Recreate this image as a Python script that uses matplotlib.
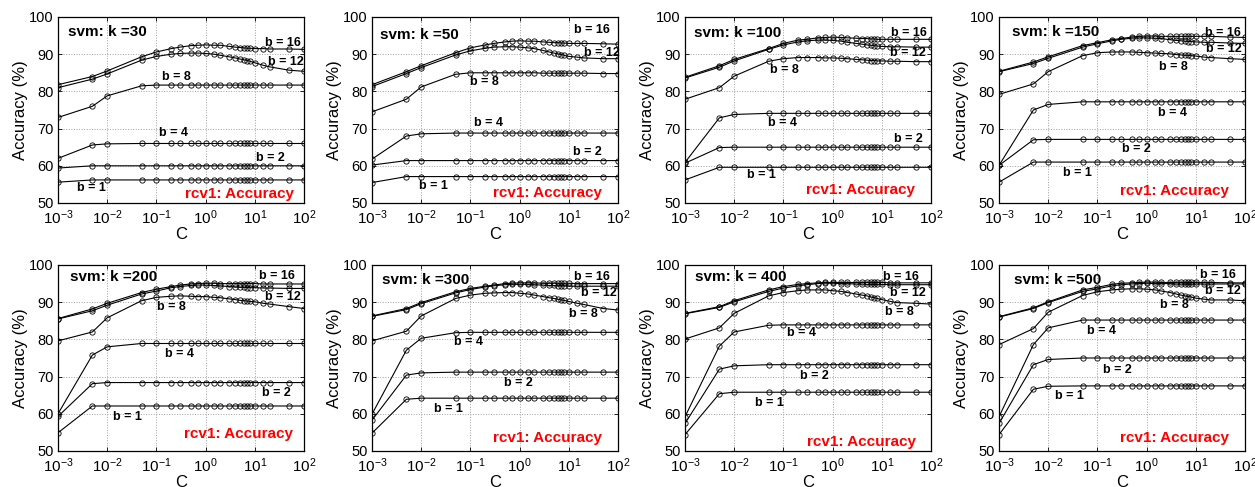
import numpy as np
import matplotlib
matplotlib.use("Agg")
import matplotlib.pyplot as plt

plt.rcParams['font.family'] = ['Liberation Sans', 'DejaVu Sans']
plt.rcParams['mathtext.fontset'] = 'custom'
plt.rcParams['mathtext.rm'] = 'Liberation Sans'
plt.rcParams['mathtext.it'] = 'Liberation Sans'
plt.rcParams['mathtext.bf'] = 'Liberation Sans:bold'

# C values (x axis)
C = [0.001, 0.005, 0.01, 0.05, 0.1, 0.2, 0.3, 0.5, 0.7, 1, 1.5, 2, 3, 4, 5, 6, 7, 8, 10, 15, 20, 50, 100]

ks = [30, 50, 100, 150, 200, 300, 400, 500]
bits = [16, 12, 8, 4, 2, 1]
titles = ["svm: k =30", "svm: k =50", "svm: k =100", "svm: k =150",
          "svm: k =200", "svm: k =300", "svm: k = 400", "svm: k =500"]

# accuracy (%) per k and b
k30_b16 = [81.8, 84.0, 85.5, 89.3, 90.6, 91.5, 91.9, 92.3, 92.4, 92.5, 92.4, 92.4, 92.1, 91.9, 91.8, 91.7, 91.6, 91.6, 91.5, 91.5, 91.4, 91.4, 91.3]
k30_b12 = [81.0, 83.3, 84.7, 88.4, 89.4, 90.0, 90.2, 90.3, 90.3, 90.2, 90.0, 89.7, 89.3, 89.0, 88.7, 88.5, 88.3, 88.1, 87.7, 87.0, 86.6, 85.7, 85.4]
k30_b8 = [73.0, 76.0, 78.8, 81.5, 81.7, 81.7, 81.7, 81.7, 81.7, 81.7, 81.7, 81.7, 81.7, 81.7, 81.7, 81.7, 81.7, 81.7, 81.7, 81.7, 81.7, 81.7, 81.7]
k30_b4 = [62.0, 65.6, 65.9, 66.0, 66.0, 66.0, 66.0, 66.0, 66.0, 66.0, 66.0, 66.0, 66.0, 66.0, 66.0, 66.0, 66.0, 66.0, 66.0, 66.0, 66.0, 66.0, 66.0]
k30_b2 = [59.4, 60.0, 60.0, 60.0, 60.0, 60.0, 60.0, 60.0, 60.0, 60.0, 60.0, 60.0, 60.0, 60.0, 60.0, 60.0, 60.0, 60.0, 60.0, 60.0, 60.0, 60.0, 60.0]
k30_b1 = [55.6, 56.2, 56.2, 56.2, 56.2, 56.2, 56.2, 56.2, 56.2, 56.2, 56.2, 56.2, 56.2, 56.2, 56.2, 56.2, 56.2, 56.2, 56.2, 56.2, 56.2, 56.2, 56.2]

k50_b16 = [81.8, 85.3, 86.9, 90.4, 91.7, 92.5, 92.9, 93.3, 93.5, 93.6, 93.5, 93.5, 93.3, 93.2, 93.1, 93.1, 93.0, 93.0, 92.9, 92.9, 92.9, 92.8, 92.7]
k50_b12 = [81.3, 84.8, 86.4, 89.8, 90.9, 91.6, 91.9, 92.0, 92.0, 91.9, 91.7, 91.5, 91.0, 90.6, 90.3, 90.1, 89.9, 89.7, 89.4, 89.2, 89.0, 88.8, 88.8]
k50_b8 = [74.5, 77.9, 81.2, 84.6, 85.0, 85.0, 85.0, 85.0, 85.0, 85.0, 85.0, 85.0, 84.9, 84.9, 84.9, 84.9, 84.9, 84.9, 84.9, 84.9, 84.9, 84.8, 84.8]
k50_b4 = [61.8, 68.0, 68.6, 68.8, 68.8, 68.8, 68.8, 68.8, 68.8, 68.8, 68.8, 68.8, 68.8, 68.8, 68.8, 68.8, 68.8, 68.8, 68.8, 68.8, 68.8, 68.8, 68.8]
k50_b2 = [60.2, 61.4, 61.4, 61.4, 61.4, 61.4, 61.4, 61.4, 61.4, 61.4, 61.4, 61.4, 61.4, 61.4, 61.4, 61.4, 61.4, 61.4, 61.4, 61.4, 61.4, 61.4, 61.4]
k50_b1 = [55.5, 57.1, 57.1, 57.1, 57.1, 57.1, 57.1, 57.1, 57.1, 57.1, 57.1, 57.1, 57.1, 57.1, 57.1, 57.1, 57.1, 57.1, 57.1, 57.1, 57.1, 57.1, 57.1]

k100_b16 = [83.8, 86.9, 88.6, 91.5, 92.9, 93.8, 94.0, 94.4, 94.5, 94.6, 94.5, 94.4, 94.3, 94.2, 94.2, 94.1, 94.1, 94.0, 94.0, 94.0, 94.0, 94.0, 94.0]
k100_b12 = [83.6, 86.5, 88.2, 91.3, 92.5, 93.3, 93.6, 93.8, 93.8, 93.7, 93.5, 93.2, 92.9, 92.7, 92.5, 92.4, 92.3, 92.2, 92.1, 92.0, 92.0, 91.9, 91.9]
k100_b8 = [77.9, 81.0, 84.1, 88.1, 88.8, 89.1, 89.1, 89.1, 89.0, 89.0, 88.9, 88.8, 88.6, 88.5, 88.4, 88.3, 88.3, 88.2, 88.2, 88.1, 88.1, 88.0, 88.0]
k100_b4 = [60.9, 72.9, 73.8, 74.1, 74.1, 74.1, 74.1, 74.1, 74.1, 74.1, 74.1, 74.1, 74.1, 74.1, 74.1, 74.1, 74.1, 74.1, 74.1, 74.1, 74.1, 74.1, 74.1]
k100_b2 = [60.7, 64.9, 65.0, 65.0, 65.0, 65.0, 65.0, 65.0, 65.0, 65.0, 65.0, 65.0, 65.0, 65.0, 65.0, 65.0, 65.0, 65.0, 65.0, 65.0, 65.0, 65.0, 65.0]
k100_b1 = [56.2, 59.6, 59.6, 59.6, 59.6, 59.6, 59.6, 59.6, 59.6, 59.6, 59.6, 59.6, 59.6, 59.6, 59.6, 59.6, 59.6, 59.6, 59.6, 59.6, 59.6, 59.6, 59.6]

k150_b16 = [85.4, 87.9, 89.3, 92.3, 93.1, 93.9, 94.2, 94.6, 94.8, 94.9, 94.9, 94.8, 94.8, 94.8, 94.8, 94.8, 94.8, 94.8, 94.8, 94.8, 94.8, 94.6, 94.5]
k150_b12 = [85.3, 87.5, 88.9, 91.9, 92.8, 93.6, 94.0, 94.3, 94.4, 94.4, 94.3, 94.2, 93.9, 93.7, 93.6, 93.5, 93.4, 93.4, 93.3, 93.2, 93.2, 93.0, 92.9]
k150_b8 = [79.2, 82.0, 85.3, 89.6, 90.4, 90.6, 90.6, 90.6, 90.5, 90.4, 90.3, 90.2, 90.1, 89.9, 89.8, 89.7, 89.7, 89.6, 89.5, 89.2, 89.1, 88.8, 88.6]
k150_b4 = [60.1, 75.0, 76.5, 77.2, 77.2, 77.2, 77.2, 77.2, 77.2, 77.2, 77.2, 77.2, 77.2, 77.2, 77.2, 77.2, 77.2, 77.2, 77.2, 77.2, 77.2, 77.2, 77.2]
k150_b2 = [60.1, 67.0, 67.1, 67.1, 67.1, 67.1, 67.1, 67.1, 67.1, 67.1, 67.1, 67.1, 67.1, 67.1, 67.1, 67.1, 67.1, 67.1, 67.1, 67.1, 67.1, 67.1, 67.1]
k150_b1 = [55.6, 61.0, 61.0, 61.0, 61.0, 61.0, 61.0, 61.0, 61.0, 61.0, 61.0, 61.0, 61.0, 61.0, 61.0, 61.0, 61.0, 61.0, 61.0, 61.0, 61.0, 61.0, 61.0]

k200_b16 = [85.6, 88.2, 89.7, 92.6, 93.5, 94.2, 94.6, 94.9, 95.0, 95.1, 95.1, 95.0, 95.0, 95.0, 95.0, 95.0, 95.0, 95.0, 95.0, 94.9, 94.9, 94.9, 94.9]
k200_b12 = [85.5, 87.7, 89.2, 92.2, 93.0, 93.9, 94.2, 94.5, 94.6, 94.6, 94.5, 94.4, 94.2, 94.1, 94.0, 94.0, 93.9, 93.9, 93.9, 93.8, 93.8, 93.7, 93.7]
k200_b8 = [79.6, 82.0, 85.8, 90.4, 91.3, 91.6, 91.7, 91.6, 91.5, 91.5, 91.3, 91.2, 90.9, 90.7, 90.5, 90.4, 90.3, 90.2, 90.1, 89.7, 89.5, 88.8, 88.3]
k200_b4 = [60.0, 75.8, 78.0, 78.9, 78.9, 78.9, 78.9, 78.9, 78.9, 78.9, 78.9, 78.9, 78.9, 78.9, 78.9, 78.9, 78.9, 78.9, 78.9, 78.9, 78.9, 78.9, 78.9]
k200_b2 = [59.3, 68.1, 68.4, 68.4, 68.4, 68.4, 68.4, 68.4, 68.4, 68.4, 68.4, 68.4, 68.4, 68.4, 68.4, 68.4, 68.4, 68.4, 68.4, 68.4, 68.4, 68.4, 68.4]
k200_b1 = [54.9, 62.1, 62.1, 62.1, 62.1, 62.1, 62.1, 62.1, 62.1, 62.1, 62.1, 62.1, 62.1, 62.1, 62.1, 62.1, 62.1, 62.1, 62.1, 62.1, 62.1, 62.1, 62.1]

k300_b16 = [86.3, 88.3, 89.9, 92.8, 93.7, 94.3, 94.6, 95.0, 95.1, 95.2, 95.2, 95.2, 95.1, 95.1, 95.1, 95.1, 95.1, 95.1, 95.1, 95.0, 95.0, 95.0, 95.0]
k300_b12 = [86.2, 88.0, 89.6, 92.5, 93.4, 94.1, 94.4, 94.7, 94.8, 94.8, 94.8, 94.7, 94.6, 94.5, 94.5, 94.4, 94.4, 94.4, 94.3, 94.3, 94.3, 94.3, 94.3]
k300_b8 = [79.6, 82.2, 86.3, 91.0, 91.9, 92.4, 92.5, 92.6, 92.6, 92.4, 92.2, 91.9, 91.5, 91.2, 91.0, 90.8, 90.6, 90.5, 90.2, 89.7, 89.4, 88.3, 87.9]
k300_b4 = [59.9, 77.1, 80.3, 81.8, 81.9, 81.9, 81.9, 81.9, 81.9, 81.9, 81.9, 81.9, 81.9, 81.9, 81.9, 81.9, 81.9, 81.9, 81.9, 81.9, 81.9, 81.9, 81.9]
k300_b2 = [58.3, 70.4, 71.0, 71.2, 71.2, 71.2, 71.2, 71.2, 71.2, 71.2, 71.2, 71.2, 71.2, 71.2, 71.2, 71.2, 71.2, 71.2, 71.2, 71.2, 71.2, 71.2, 71.2]
k300_b1 = [54.8, 63.9, 64.2, 64.2, 64.2, 64.2, 64.2, 64.2, 64.2, 64.2, 64.2, 64.2, 64.2, 64.2, 64.2, 64.2, 64.2, 64.2, 64.2, 64.2, 64.2, 64.2, 64.2]

k400_b16 = [87.0, 88.8, 90.4, 93.3, 94.2, 94.8, 95.0, 95.2, 95.3, 95.3, 95.3, 95.3, 95.3, 95.3, 95.3, 95.3, 95.3, 95.3, 95.3, 95.2, 95.2, 95.2, 95.2]
k400_b12 = [86.9, 88.6, 90.1, 92.9, 93.8, 94.4, 94.7, 95.0, 95.1, 95.1, 95.0, 95.0, 94.9, 94.9, 94.8, 94.8, 94.8, 94.8, 94.8, 94.7, 94.7, 94.7, 94.7]
k400_b8 = [80.1, 83.1, 87.0, 91.7, 92.6, 93.1, 93.3, 93.3, 93.3, 93.1, 92.9, 92.6, 92.2, 91.9, 91.7, 91.4, 91.2, 91.0, 90.7, 90.2, 89.9, 89.7, 89.5]
k400_b4 = [59.2, 78.2, 82.0, 83.8, 83.9, 83.9, 83.9, 83.9, 83.9, 83.9, 83.9, 83.9, 83.9, 83.9, 83.9, 83.9, 83.9, 83.9, 83.9, 83.9, 83.9, 83.9, 83.9]
k400_b2 = [57.4, 72.0, 72.9, 73.2, 73.2, 73.2, 73.2, 73.2, 73.2, 73.2, 73.2, 73.2, 73.2, 73.2, 73.2, 73.2, 73.2, 73.2, 73.2, 73.2, 73.2, 73.2, 73.2]
k400_b1 = [54.4, 65.4, 65.8, 65.8, 65.8, 65.8, 65.8, 65.8, 65.8, 65.8, 65.8, 65.8, 65.8, 65.8, 65.8, 65.8, 65.8, 65.8, 65.8, 65.8, 65.8, 65.8, 65.8]

k500_b16 = [86.1, 88.5, 90.1, 93.3, 94.0, 94.8, 95.1, 95.2, 95.3, 95.4, 95.4, 95.3, 95.3, 95.3, 95.3, 95.3, 95.3, 95.3, 95.3, 95.3, 95.3, 95.2, 95.2]
k500_b12 = [86.0, 88.3, 89.9, 92.9, 93.6, 94.4, 94.7, 94.9, 95.0, 95.1, 95.0, 95.0, 95.0, 94.9, 94.9, 94.9, 94.9, 94.9, 94.9, 94.9, 94.9, 94.9, 94.9]
k500_b8 = [78.6, 82.9, 87.3, 91.8, 92.8, 93.3, 93.5, 93.6, 93.6, 93.5, 93.3, 93.0, 92.6, 92.2, 91.9, 91.7, 91.5, 91.4, 91.1, 90.8, 90.6, 90.6, 90.4]
k500_b4 = [59.2, 78.6, 83.1, 85.2, 85.2, 85.2, 85.2, 85.2, 85.2, 85.2, 85.2, 85.2, 85.2, 85.2, 85.2, 85.2, 85.2, 85.2, 85.2, 85.2, 85.2, 85.2, 85.2]
k500_b2 = [57.4, 73.2, 74.6, 75.0, 75.0, 75.0, 75.0, 75.0, 75.0, 75.0, 75.0, 75.0, 75.0, 75.0, 75.0, 75.0, 75.0, 75.0, 75.0, 75.0, 75.0, 75.0, 75.0]
k500_b1 = [54.4, 66.6, 67.4, 67.5, 67.5, 67.5, 67.5, 67.5, 67.5, 67.5, 67.5, 67.5, 67.5, 67.5, 67.5, 67.5, 67.5, 67.5, 67.5, 67.5, 67.5, 67.5, 67.5]

series = {
    30: [k30_b16, k30_b12, k30_b8, k30_b4, k30_b2, k30_b1],
    50: [k50_b16, k50_b12, k50_b8, k50_b4, k50_b2, k50_b1],
    100: [k100_b16, k100_b12, k100_b8, k100_b4, k100_b2, k100_b1],
    150: [k150_b16, k150_b12, k150_b8, k150_b4, k150_b2, k150_b1],
    200: [k200_b16, k200_b12, k200_b8, k200_b4, k200_b2, k200_b1],
    300: [k300_b16, k300_b12, k300_b8, k300_b4, k300_b2, k300_b1],
    400: [k400_b16, k400_b12, k400_b8, k400_b4, k400_b2, k400_b1],
    500: [k500_b16, k500_b12, k500_b8, k500_b4, k500_b2, k500_b1],
}

# where the "b = .." labels sit (data coords, text centre), order b=16,12,8,4,2,1
label_pos = {
    30: [(38, 93.0), (43, 87.8), (0.26, 83.8), (0.22, 68.9), (21, 62.0), (0.0048, 54.0)],
    50: [(30, 96.6), (46, 90.2), (0.19, 82.5), (0.23, 71.6), (23.5, 63.8), (0.018, 54.5)],
    100: [(36, 95.8), (34, 90.2), (0.107, 85.7), (0.098, 71.4), (34, 67.1), (0.035, 57.4)],
    150: [(36, 95.8), (37, 91.4), (3.5, 86.6), (3.4, 74.1), (0.63, 64.6), (0.04, 58.0)],
    200: [(28, 97.0), (38, 91.3), (0.2, 88.8), (0.3, 76.2), (28, 65.6), (0.026, 59.2)],
    300: [(29, 96.9), (40, 92.4), (20, 86.8), (0.092, 79.2), (0.95, 68.4), (0.035, 61.2)],
    400: [(25, 96.9), (34, 92.4), (23, 87.4), (0.23, 81.6), (0.43, 70.2), (0.053, 63.0)],
    500: [(28, 97.3), (36, 93.1), (3.7, 89.2), (0.123, 82.3), (0.25, 71.9), (0.027, 64.7)],
}
title_pos = [(0.04, 0.92), (0.034, 0.905), (0.038, 0.916), (0.053, 0.92),
             (0.05, 0.937), (0.04, 0.919), (0.04, 0.937), (0.06, 0.92)]
rcv_pos = [(0.96, 0.05), (0.935, 0.055), (0.936, 0.068), (0.935, 0.066),
           (0.957, 0.093), (0.935, 0.07), (0.94, 0.05), (0.935, 0.07)]

W, H = 1255, 487
fig = plt.figure(figsize=(W / 100, H / 100), dpi=100)

lefts = [58, 372, 685, 999]
tops = [17, 265]
aw, ah = 246, 186

for i, k in enumerate(ks):
    r, c = divmod(i, 4)
    ax = fig.add_axes([lefts[c] / W, (H - tops[r] - ah) / H, aw / W, ah / H])
    for j, b in enumerate(bits):
        ax.plot(C, series[k][j], '-', color='black', lw=0.8,
                marker='o', ms=3.8, mfc='none', mec='black', mew=0.6)
        lx, ly = label_pos[k][j]
        ax.text(lx, ly, 'b = %d' % b, fontsize=9, fontweight='bold',
                ha='center', va='center')
    ax.set_xscale('log')
    ax.set_xlim(1e-3, 1e2)
    ax.set_ylim(50, 100)
    ax.set_xticks([1e-3, 1e-2, 1e-1, 1e0, 1e1, 1e2])
    ax.xaxis.set_minor_locator(matplotlib.ticker.NullLocator())
    ax.set_yticks([50, 60, 70, 80, 90, 100])
    ax.grid(True, linestyle=':', color='#a0a0a0', lw=0.7)
    ax.tick_params(direction='in', top=True, right=True, labelsize=10.5,
                   length=3, width=0.6, pad=3)
    ax.tick_params(axis='x', pad=4, labelsize=11)
    for s in ax.spines.values():
        s.set_linewidth(0.9)
    ax.set_xlabel('C', fontsize=12, labelpad=0)
    ax.set_ylabel('Accuracy (%)', fontsize=12, labelpad=1)
    tx, ty = title_pos[i]
    ax.text(tx, ty, titles[i], transform=ax.transAxes, fontsize=11,
            fontweight='bold', ha='left', va='center')
    rx, ry = rcv_pos[i]
    ax.text(rx, ry, 'rcv1: Accuracy', transform=ax.transAxes, fontsize=11,
            fontweight='bold', color='red', ha='right', va='center')

fig.savefig('out.png', dpi=100)
